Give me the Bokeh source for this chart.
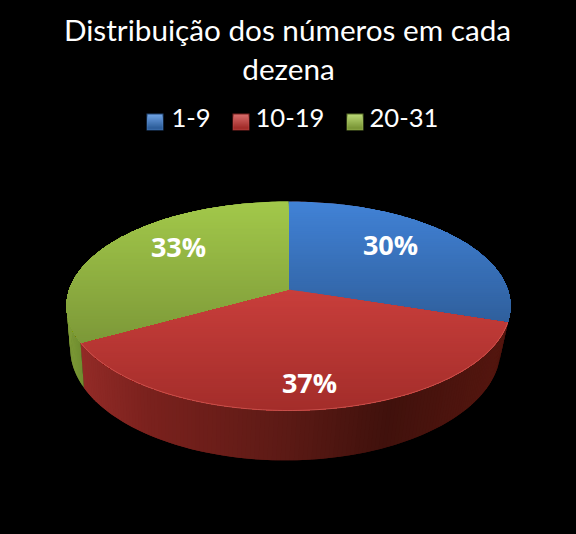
import math
from bokeh.plotting import figure
from bokeh.core.properties import value
from bokeh.embed import file_html
from bokeh.resources import INLINE

title_lines = ["Distribuição dos números em cada", "dezena"]
categories = ["1-9", "10-19", "20-31"]
values = [30, 37, 33]
top_colors = [("#4182d6", "#2f5f9c"), ("#c83e3b", "#a32d2a"), ("#a2c84a", "#7c9838")]
wall_colors = [
    [(500, "#4a1712"), (512, "#4a1712")],
    [(80, "#932b27"), (150, "#7a211d"), (288, "#5c1a15"), (390, "#40110c"), (505, "#54160f")],
    [(66, "#7f9c38"), (84, "#6c8a2e")],
]
label_x = [390, 309, 178]
label_y = [244, 382, 246]
swatch_x = [146, 232, 346]
legend_x = [171, 255, 369]

K = 0.158
TOP = dict(cx=288, cy=289, R=219.2, b=101.9)
BOT = dict(cx=285, cy=330.4, R=212.5, b=109.0)

def project(angle, g):
    X, Y = math.sin(angle), -math.cos(angle)
    w = 1 - K * Y
    return g["cx"] + g["R"] * X / w, g["cy"] + g["b"] * Y / w

def hex2rgb(c):
    return tuple(int(c[i:i + 2], 16) for i in (1, 3, 5))

def mix(c1, c2, t):
    a, b = hex2rgb(c1), hex2rgb(c2)
    t = max(0, min(1, t))
    return "#%02x%02x%02x" % tuple(round(a[i] + (b[i] - a[i]) * t) for i in range(3))

def ramp(stops, x):
    if x <= stops[0][0]:
        return stops[0][1]
    for (x0, c0), (x1, c1) in zip(stops, stops[1:]):
        if x <= x1:
            return mix(c0, c1, (x - x0) / (x1 - x0))
    return stops[-1][1]

def clip(poly, y):
    """Keep the part of a polygon that lies below screen row y."""
    out = []
    inside = lambda q: q[1] >= y
    for i, a in enumerate(poly):
        b = poly[(i + 1) % len(poly)]
        if inside(a):
            out.append(a)
        if inside(a) != inside(b):
            t = (y - a[1]) / (b[1] - a[1])
            out.append((a[0] + (b[0] - a[0]) * t, y))
    return out

total = sum(values)
edges = [0]
for v in values:
    edges.append(edges[-1] + v / total * 2 * math.pi)

p = figure(width=576, height=534, x_range=(0, 576), y_range=(534, 0),
           output_backend="svg", toolbar_location=None,
           background_fill_color="#000000", border_fill_color="#000000",
           outline_line_color=None, min_border=0)
p.axis.visible = False
p.grid.visible = False

# side wall: each quad overlaps the next so no seams show
for i in range(len(values)):
    a0, a1 = edges[i], edges[i + 1]
    n = max(2, int((a1 - a0) / math.radians(1)))
    xs, ys, cs = [], [], []
    for j in range(n):
        u, v = a0 + (a1 - a0) * j / n, a0 + (a1 - a0) * min(j + 2, n) / n
        t0, t1, b0, b1 = project(u, TOP), project(v, TOP), project(u, BOT), project(v, BOT)
        xs.append([t0[0], t1[0], b1[0], b0[0]])
        ys.append([t0[1], t1[1], b1[1], b0[1]])
        cs.append(ramp(wall_colors[i], t0[0]))
    p.patches(xs, ys, fill_color=cs, line_color=None)

# top face: each band runs to the slice's lower end, later bands paint over
for i in range(len(values)):
    a0, a1 = edges[i], edges[i + 1]
    n = max(2, int((a1 - a0) / math.radians(1)))
    poly = [(TOP["cx"], TOP["cy"])] + [project(a0 + (a1 - a0) * j / n, TOP) for j in range(n + 1)]
    ymin, ymax = min(q[1] for q in poly), max(q[1] for q in poly)
    xs, ys, cs = [], [], []
    y = ymin
    while y < ymax:
        band = clip(poly, y)
        if len(band) >= 3:
            xs.append([q[0] for q in band])
            ys.append([q[1] for q in band])
            cs.append(mix(*top_colors[i], (y - ymin) / (ymax - ymin)))
        y += 2
    p.patches(xs, ys, fill_color=cs, line_color=None)

# light rim on the front of the red slice
rim = [project(edges[1] + (edges[2] - edges[1]) * j / 120, TOP) for j in range(121)]
p.line([q[0] for q in rim], [q[1] for q in rim], line_color="#d9605a", line_width=1, line_alpha=0.7)

# texts
p.text([287, 288], [29, 68], text=title_lines, text_font=value("Lato"), text_font_size="29.7px",
       text_color="#ffffff", text_align="center", text_baseline="middle")
p.text(legend_x, [117] * 3, text=categories, text_font=value("Lato"), text_font_size="25.6px",
       text_color="#ffffff", text_align="left", text_baseline="middle")
p.text(label_x, label_y, text=[f"{v}%" for v in values], text_font=value("Open Sans"),
       text_font_size="27px", text_font_style="bold", text_color="#ffffff",
       text_align="center", text_baseline="middle")

# legend swatches: dark edge with a lighter bevelled inside
for sx, (c0, c1) in zip(swatch_x, top_colors):
    p.quad(left=sx, right=sx + 17, top=113, bottom=130, fill_color=mix(c1, "#000000", 0.25), line_color=None)
    ramp_steps = 7
    for j in range(ramp_steps):
        p.quad(left=sx + 1, right=sx + 16, top=114 + j * 2, bottom=129,
               fill_color=mix(mix(c0, "#ffffff", 0.22), c1, j / (ramp_steps - 1)), line_color=None)

html = file_html(p, INLINE)
html = html.replace("<head>", "<head><style>html,body{background:#000000;margin:0;overflow:hidden;}</style>", 1)
open("out.html", "w").write(html)
